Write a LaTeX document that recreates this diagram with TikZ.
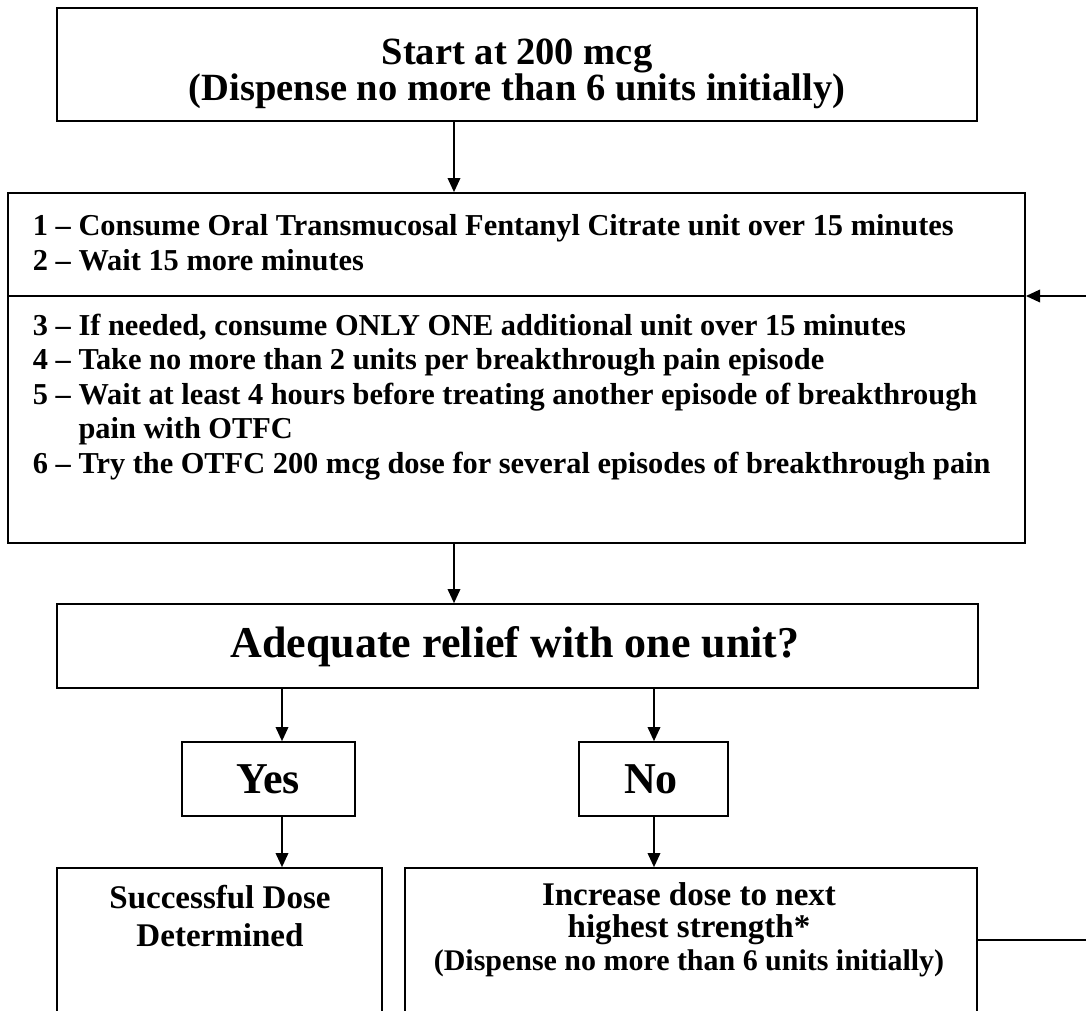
\documentclass[tikz,border=0pt]{standalone}
\usepackage{fontspec}
\setmainfont{Liberation Serif}
\usetikzlibrary{arrows.meta}

\tikzset{
  box/.style={draw, line width=1.2pt, inner sep=0pt},
  link/.style={line width=1pt, -{Triangle[length=10pt,width=9pt]}},
  headtext/.style={font=\fontsize{27.4pt}{26.3pt}\selectfont\bfseries, align=center, anchor=base},
  steptext/.style={font=\fontsize{21.6pt}{24.5pt}\selectfont\bfseries, align=left, anchor=base west},
  bigtext/.style={font=\fontsize{31.3pt}{36pt}\selectfont\bfseries, anchor=base},
  endtext/.style={font=\fontsize{23.5pt}{27pt}\selectfont\bfseries, align=center, anchor=base},
}

\begin{document}
\begin{tikzpicture}[x=0.025cm, y=-0.025cm]
        \useasboundingbox (0,0) rectangle (1086,1011);
        \clip (0,0) rectangle (1086,1011);
        \fill[white] (0,0) rectangle (1086,1011);

        \node[box, minimum width=23cm, minimum height=2.825cm] (start) at (517,64.5) {};
        \node[box, minimum width=25.425cm, minimum height=8.75cm] (steps) at (516.5,368) {};
        \node[box, minimum width=23.025cm, minimum height=2.1cm] (query) at (517.5,646) {};
        \node[box, minimum width=4.325cm, minimum height=1.85cm] (yes) at (268.5,779) {};
        \node[box, minimum width=3.725cm, minimum height=1.85cm] (no) at (653.5,779) {};
        \node[box, minimum width=8.125cm, minimum height=4.3cm] (done) at (219.5,954) {};
        \node[box, minimum width=14.3cm, minimum height=4.3cm] (incr) at (691,954) {};

        \coordinate (split) at (516,296);
        \draw[line width=1.2pt] (steps.west |- split) -- (steps.east |- split);

        % base anchor = last line
        \node[headtext] (starttxt) at (517,101) {Start at 200 mcg\\(Dispense no more than 6 units initially)};
        \node[steptext] (stepsA) at (28,270) {1 – Consume Oral Transmucosal Fentanyl Citrate unit over 15 minutes\\2 – Wait 15 more minutes};
        \node[steptext] (stepsB) at (28,473) {3 – If needed, consume ONLY ONE additional unit over 15 minutes\\4 – Take no more than 2 units per breakthrough pain episode\\5 – Wait at least 4 hours before treating another episode of breakthrough\\\phantom{5 – }pain with OTFC\\6 – Try the OTFC 200 mcg dose for several episodes of breakthrough pain};
        \node[bigtext] (querytxt) at (515,657) {Adequate relief with one unit?};
        \node[bigtext] (yestxt) at (268,793) {Yes};
        \node[bigtext] (notxt) at (651,793) {No};
        \node[endtext] (donetxt) at (220,946) {Successful Dose\\Determined};
        \node[endtext, font=\fontsize{23.5pt}{22.8pt}\selectfont\bfseries] (incrtxt) at (689,970) {Increase dose to next\\highest strength*\\{\fontsize{21.3pt}{22.8pt}\selectfont (Dispense no more than 6 units initially)}};

        \coordinate (colA) at (454,0);
        \coordinate (colY) at (282,0);
        \coordinate (colN) at (654,0);
        \draw[link] (start.south -| colA) -- (steps.north -| colA);
        \draw[link] (steps.south -| colA) -- (query.north -| colA);
        \draw[link] (query.south -| colY) -- (yes.north -| colY);
        \draw[link] (query.south -| colN) -- (no.north -| colN);
        \draw[link] (yes.south -| colY) -- (done.north -| colY);
        \draw[link] (no.south -| colN) -- (incr.north -| colN);

        \coordinate (back) at (1110,940);
        \draw[link] (incr.east |- back) -- (back) -- (back |- split) -- (steps.east |- split);
\end{tikzpicture}
\end{document}
